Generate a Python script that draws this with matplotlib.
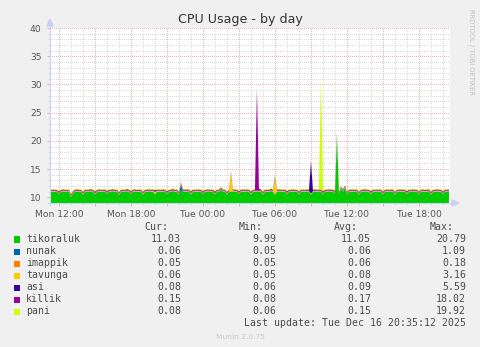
import matplotlib
matplotlib.use("Agg")
import matplotlib.pyplot as plt
import matplotlib.dates as mdates
from matplotlib.ticker import MultipleLocator, FuncFormatter
from matplotlib.patches import Rectangle, Polygon
from matplotlib.lines import Line2D
import pandas as pd

# ---------------- data (10-minute samples, Mon 11:20 .. Tue 20:30) ----------------
start_time = "2025-12-15 11:20"
n_points = 200

tikoraluk = [
    10.95, 10.92, 10.97, 10.90,
    10.55, 10.93, 10.98, 10.95, 10.92, 10.96, 10.00, 10.70, 10.96, 10.99, 10.94, 10.97,
    10.45, 10.92, 10.95, 10.98, 11.00, 10.94, 10.50, 10.90, 10.97, 10.93, 10.99, 10.95,
    10.60, 10.94, 10.96, 11.00, 10.93, 10.97, 10.40, 10.91, 10.95, 10.98, 11.02, 10.96,
    10.55, 10.93, 10.99, 10.95, 10.97, 10.94, 10.45, 10.92, 10.96, 10.99, 10.95, 11.00,
    10.50, 10.94, 10.97, 10.93, 10.96, 10.98, 10.55, 10.90, 10.95, 11.05, 10.96, 10.94,
    10.45, 11.20, 10.98, 10.95, 11.00, 10.97, 10.50, 10.95, 10.92, 10.97, 10.94, 10.96,
    10.55, 10.92, 10.96, 10.99, 10.95, 10.93, 10.50, 10.94, 10.97, 11.30, 11.00, 10.94,
    10.45, 10.93, 10.96, 10.95, 10.98, 10.96, 10.55, 10.94, 10.97, 10.95, 11.00, 10.93,
    10.50, 10.92, 10.95, 10.98, 10.96, 10.99, 10.45, 10.93, 10.96, 10.94, 11.05, 10.97,
    10.40, 10.95, 10.97, 10.99, 10.94, 10.96, 10.55, 10.92, 10.96, 10.98, 10.95, 10.97,
    10.50, 10.94, 10.97, 10.93, 10.99, 10.96, 10.45, 10.93, 10.98, 10.95, 10.97, 10.94,
    10.55, 10.92, 10.96, 10.99, 10.95, 10.97, 10.60, 20.79, 10.60, 11.50, 11.00, 11.70,
    10.50, 10.93, 10.97, 10.95, 10.98, 10.96, 10.45, 10.94, 10.97, 11.00, 10.95, 10.93,
    10.55, 10.92, 10.96, 10.98, 10.94, 10.97, 10.50, 10.95, 10.97, 10.93, 10.99, 10.96,
    10.45, 10.93, 10.98, 10.95, 10.97, 10.94, 10.55, 10.92, 10.96, 10.99, 10.95, 10.97,
    10.50, 10.94, 10.97, 10.93, 10.96, 10.98, 10.45, 10.92, 10.95, 10.99, 10.96, 10.94,
    10.55, 10.93, 10.97, 11.03,
]

nunak = [
    .06, .06, .05, .06,
    .06, .05, .06, .06, .07, .06, .06, .06, .05, .06, .06, .06,
    .07, .06, .06, .05, .06, .06, .06, .06, .06, .07, .05, .06,
    .06, .06, .05, .06, .06, .07, .06, .05, .06, .06, .06, .06,
    .06, .07, .06, .06, .05, .06, .06, .06, .06, .05, .07, .06,
    .07, .06, .06, .06, .06, .05, .06, .06, .07, .06, .06, .06,
    .06, 1.09, .08, .06, .06, .06, .06, .05, .06, .06, .07, .06,
    .06, .06, .05, .06, .06, .06, .07, .06, .06, .06, .05, .06,
    .06, .06, .06, .07, .06, .05, .06, .06, .06, .06, .06, .07,
    .05, .06, .06, .06, .07, .06, .06, .06, .05, .06, .06, .06,
    .07, .06, .06, .05, .06, .06, .06, .07, .06, .06, .06, .05,
    .06, .06, .07, .06, .06, .06, .05, .06, .06, .06, .07, .06,
    .06, .05, .06, .06, .06, .07, .06, .06, .06, .05, .06, .06,
    .06, .06, .06, .07, .05, .06, .06, .06, .06, .06, .07, .06,
    .05, .06, .06, .06, .06, .07, .06, .05, .06, .06, .06, .06,
    .06, .07, .06, .06, .05, .06, .06, .06, .07, .06, .06, .06,
    .06, .06, .05, .06, .06, .07, .06, .06, .06, .05, .06, .06,
    .06, .07, .06, .06,
]

imappik = [
    .05, .06, .06, .05,
    .06, .05, .06, .06, .05, .06, .07, .06, .05, .06, .06, .05,
    .06, .06, .05, .06, .06, .06, .07, .05, .06, .06, .05, .06,
    .06, .05, .06, .06, .06, .05, .07, .06, .06, .05, .06, .06,
    .06, .06, .06, .05, .06, .06, .07, .06, .05, .06, .06, .06,
    .07, .05, .06, .06, .06, .06, .06, .06, .05, .06, .06, .05,
    .06, .07, .06, .05, .06, .06, .07, .06, .06, .05, .06, .06,
    .07, .06, .05, .06, .06, .06, .06, .05, .06, .06, .06, .06,
    .06, .06, .08, .06, .05, .06, .07, .06, .06, .05, .06, .06,
    .06, .05, .07, .06, .06, .06, .06, .06, .05, .06, .06, .05,
    .18, .08, .06, .06, .05, .06, .07, .06, .06, .06, .05, .06,
    .06, .06, .05, .06, .06, .06, .07, .06, .06, .05, .06, .06,
    .06, .05, .06, .06, .06, .06, .07, .08, .06, .06, .05, .06,
    .06, .06, .06, .05, .06, .06, .06, .05, .06, .06, .06, .06,
    .07, .06, .05, .06, .06, .06, .06, .06, .06, .05, .06, .06,
    .06, .05, .06, .06, .06, .05, .07, .06, .06, .06, .05, .06,
    .06, .06, .06, .05, .06, .06, .06, .05, .06, .06, .06, .06,
    .06, .05, .05, .05,
]

tavunga = [
    .06, .07, .06, .06,
    .08, .06, .06, .07, .06, .06, .09, .06, .07, .06, .06, .06,
    .08, .06, .06, .06, .07, .06, .09, .06, .06, .07, .06, .06,
    .08, .06, .07, .06, .06, .06, .09, .06, .06, .06, .07, .06,
    .08, .07, .06, .06, .06, .06, .09, .06, .06, .07, .06, .06,
    .30, .08, .06, .06, .06, .07, .09, .06, .06, .06, .06, .07,
    .08, .06, .06, .07, .06, .06, .09, .06, .06, .06, .07, .06,
    .08, .06, .07, .06, .06, .06, .09, .06, .06, .06, .06, .07,
    .08, .06, 3.16, .10, .06, .06, .09, .06, .06, .07, .06, .06,
    .08, .07, .06, .06, .06, .06, .09, .06, .06, .06, .07, .06,
    2.80, .09, .06, .06, .07, .06, .09, .06, .06, .06, .06, .06,
    .08, .06, .07, .06, .06, .06, .09, .06, .06, .07, .06, .06,
    .08, .06, .06, .06, .07, .06, .09, .10, .06, .06, .06, .07,
    .08, .06, .06, .07, .06, .06, .09, .06, .07, .06, .06, .06,
    .08, .07, .06, .06, .06, .06, .09, .06, .06, .06, .07, .06,
    .08, .06, .06, .07, .06, .06, .09, .06, .06, .06, .06, .07,
    .08, .06, .07, .06, .06, .06, .09, .06, .06, .07, .06, .06,
    .08, .06, .06, .06,
]

asi = [
    .08, .09, .08, .08,
    .10, .08, .09, .08, .08, .09, .11, .08, .08, .09, .08, .08,
    .10, .09, .08, .08, .09, .08, .10, .08, .09, .08, .08, .09,
    .11, .08, .08, .09, .08, .08, .10, .09, .08, .08, .09, .08,
    .10, .08, .09, .08, .08, .09, .11, .08, .08, .09, .08, .08,
    .10, .09, .08, .08, .09, .08, .10, .08, .09, .08, .08, .09,
    .11, .08, .08, .09, .08, .08, .10, .09, .08, .08, .09, .08,
    .10, .08, .09, .08, .08, .09, .11, .08, .08, .09, .08, .08,
    .10, .09, .08, .08, .09, .08, .10, .08, .09, .08, .08, .09,
    .11, .08, .08, .09, .08, .08, .10, .09, .08, .08, .09, .08,
    .10, .08, .09, .08, .08, .09, .11, .08, .08, .09, .08, .08,
    .10, .09, .08, .08, .09, .08, 5.59, .12, .09, .08, .08, .09,
    .11, .08, .08, .09, .08, .08, .10, .09, .08, .08, .09, .08,
    .10, .08, .09, .08, .08, .09, .11, .08, .08, .09, .08, .08,
    .10, .09, .08, .08, .09, .08, .10, .08, .09, .08, .08, .09,
    .11, .08, .08, .09, .08, .08, .10, .09, .08, .08, .09, .08,
    .10, .08, .09, .08, .08, .09, .11, .08, .08, .09, .08, .08,
    .10, .09, .08, .08,
]

killik = [
    .15, .16, .15, .14,
    .20, .15, .16, .15, .14, .16, .22, .15, .15, .16, .15, .14,
    .20, .16, .15, .15, .16, .15, .21, .15, .16, .15, .14, .16,
    .22, .15, .15, .16, .15, .15, .20, .16, .15, .14, .16, .15,
    .21, .15, .16, .15, .15, .16, .20, .15, .15, .16, .15, .15,
    .22, .16, .15, .15, .16, .14, .20, .15, .16, .15, .15, .16,
    .21, .15, .15, .16, .15, .15, .22, .16, .15, .15, .16, .15,
    .20, .15, .16, .15, .14, .16, .21, .15, .15, .16, .15, .15,
    .22, .16, .15, .15, .16, .15, .20, .15, .16, .15, .15, .16,
    .21, .15, .15, 18.02, .30, .15, .22, .16, .15, .15, .16, .15,
    .20, .15, .16, .15, .15, .16, .21, .15, .15, .16, .15, .14,
    .22, .16, .15, .15, .16, .15, .20, .15, .16, .15, .15, .16,
    .21, .15, .15, .16, .15, .15, .22, .16, .15, .15, .16, .15,
    .20, .15, .16, .15, .15, .16, .21, .15, .15, .16, .15, .15,
    .22, .16, .15, .15, .16, .15, .20, .15, .16, .15, .15, .16,
    .21, .15, .15, .16, .15, .15, .22, .16, .15, .15, .16, .15,
    .20, .15, .16, .15, .15, .16, .21, .15, .15, .16, .15, .14,
    .20, .16, .15, .15,
]

pani = [
    .12, .13, .12, .12,
    .16, .12, .13, .12, .12, .13, .18, .12, .12, .13, .12, .12,
    .16, .13, .12, .12, .13, .12, .17, .12, .13, .12, .12, .13,
    .18, .12, .12, .13, .12, .12, .16, .13, .12, .12, .13, .12,
    .17, .12, .13, .12, .12, .13, .16, .12, .12, .13, .12, .12,
    .18, .13, .12, .12, .13, .12, .16, .12, .13, .12, .12, .13,
    .17, .12, .12, .13, .12, .12, .18, .13, .12, .12, .13, .12,
    .16, .12, .13, .12, .12, .13, .17, .12, .12, .13, .12, .12,
    .18, .13, .12, .12, .13, .12, .16, .12, .13, .12, .12, .13,
    .17, .12, .12, .13, .12, .12, .18, .13, .12, .12, .13, .12,
    .16, .12, .13, .12, .12, .13, .17, .12, .12, .13, .12, .12,
    .18, .13, .12, .12, .13, .12, .16, .12, .13, .12, .12, 19.92,
    .40, .12, .12, .13, .12, .12, .18, .13, .12, .12, .13, .12,
    .16, .12, .13, .12, .12, .13, .17, .12, .12, .13, .12, .12,
    .18, .13, .12, .12, .13, .12, .16, .12, .13, .12, .12, .13,
    .17, .12, .12, .13, .12, .12, .18, .13, .12, .12, .13, .12,
    .16, .12, .13, .12, .12, .13, .17, .12, .12, .13, .12, .12,
    .08, .12, .13, .08,
]

series_names = ["tikoraluk", "nunak", "imappik", "tavunga", "asi", "killik", "pani"]
series_colors = ["#00cc00", "#0066b3", "#ff8000", "#ffcc00", "#330099", "#990099", "#ccff00"]
cur_vals = ["11.03", "0.06", "0.05", "0.06", "0.08", "0.15", "0.08"]
min_vals = ["9.99", "0.05", "0.05", "0.05", "0.06", "0.08", "0.06"]
avg_vals = ["11.05", "0.06", "0.06", "0.08", "0.09", "0.17", "0.15"]
max_vals = ["20.79", "1.09", "0.18", "3.16", "5.59", "18.02", "19.92"]

title = "CPU Usage - by day"
last_update = "Last update: Tue Dec 16 20:35:12 2025"
x_start = "2025-12-15 11:15:12"
x_end = "2025-12-16 20:35:12"

# ---------------- figure ----------------
W, H = 481, 347
fig = plt.figure(figsize=(W / 100, H / 100), dpi=100, facecolor="#f0f0f0")

def fx(px):
    return px / W

def fy(py):
    return 1 - py / H

ax = fig.add_axes([fx(50), fy(203), fx(450) - fx(50), fy(28) - fy(203)])
ax.set_facecolor("white")

times = pd.date_range(start_time, periods=n_points, freq="10min")
tnum = mdates.date2num(times.to_pydatetime())
all_series = [tikoraluk, nunak, imappik, tavunga, asi, killik, pani]
ax.stackplot(tnum, *all_series, colors=series_colors, linewidth=0)

ax.set_xlim(mdates.date2num(pd.Timestamp(x_start).to_pydatetime()),
            mdates.date2num(pd.Timestamp(x_end).to_pydatetime()))
ax.set_ylim(9, 40)

ax.yaxis.set_major_locator(MultipleLocator(5))
ax.yaxis.set_minor_locator(MultipleLocator(1))
ax.xaxis.set_major_locator(mdates.HourLocator(byhour=range(0, 24, 3)))
ax.xaxis.set_minor_locator(mdates.HourLocator())

def xfmt(x, pos):
    d = mdates.num2date(x)
    if d.hour % 6 == 0:
        return d.strftime("%a %H:%M")
    return ""

ax.xaxis.set_major_formatter(FuncFormatter(xfmt))

ax.set_axisbelow(True)
ax.grid(which="major", color="#ecb4b4", linestyle=(0, (1, 1.2)), linewidth=0.72,
        antialiased=False)
ax.grid(which="minor", color="#dcdcdc", linestyle=(0, (1, 1.2)), linewidth=0.72,
        antialiased=False)

for s in ax.spines.values():
    s.set_visible(False)

ax.tick_params(which="major", length=2, width=0.7, color="#e8a8a8",
               labelsize=6.6, labelcolor="#555555")
ax.tick_params(which="minor", length=1.5, width=0.7, color="#d6d6d6")
ax.tick_params(axis="y", which="major", pad=4)
ax.tick_params(axis="x", which="major", pad=3)

# axis lines with arrows
axis_col = "#c8d0f4"
fig.add_artist(Line2D([fx(50), fx(50)], [fy(205), fy(24)], color=axis_col, lw=0.8))
fig.add_artist(Line2D([fx(48), fx(454)], [fy(203), fy(203)], color=axis_col, lw=0.8))
fig.add_artist(Polygon([[fx(47), fy(26)], [fx(53), fy(26)], [fx(50), fy(19)]],
                       closed=True, color=axis_col, transform=fig.transFigure))
fig.add_artist(Polygon([[fx(452), fy(200)], [fx(452), fy(206)], [fx(459), fy(203)]],
                       closed=True, color=axis_col, transform=fig.transFigure))

# title and side texts
fig.text(fx(240.5), fy(19), title, ha="center", va="center", fontsize=9.1,
         color="#333333", family="DejaVu Sans")
fig.text(fx(471), fy(52), "RRDTOOL / TOBI OETIKER", ha="center", va="center",
         rotation=270, fontsize=4.9, color="#c0c0c0", family="DejaVu Sans")
fig.text(fx(240), fy(337), "Munin 2.0.75", ha="center", va="center",
         fontsize=5.4, color="#c8c8c8", family="DejaVu Sans")

# legend table
mono = dict(family="DejaVu Sans Mono", fontsize=7.1, color="#4a4a4a", va="center")
col_right = [181, 276, 371, 466]
head_right = [168, 263, 358, 454]
for hr, h in zip(head_right, ["Cur:", "Min:", "Avg:", "Max:"]):
    fig.text(fx(hr), fy(227), h, ha="right", **mono)

row_y0 = 239.5
row_dy = 12.0
for k, name in enumerate(series_names):
    yy = row_y0 + k * row_dy
    fig.add_artist(Rectangle((fx(14), fy(yy + 3)), fx(6), fy(yy - 3) - fy(yy + 3),
                             transform=fig.transFigure, color=series_colors[k], lw=0))
    fig.text(fx(26), fy(yy), name, ha="left", **mono)
    for cr, vals in zip(col_right, [cur_vals, min_vals, avg_vals, max_vals]):
        fig.text(fx(cr), fy(yy), vals[k], ha="right", **mono)

fig.text(fx(466), fy(323.5), last_update, ha="right", **mono)

fig.savefig("out.png", dpi=100, facecolor=fig.get_facecolor())
